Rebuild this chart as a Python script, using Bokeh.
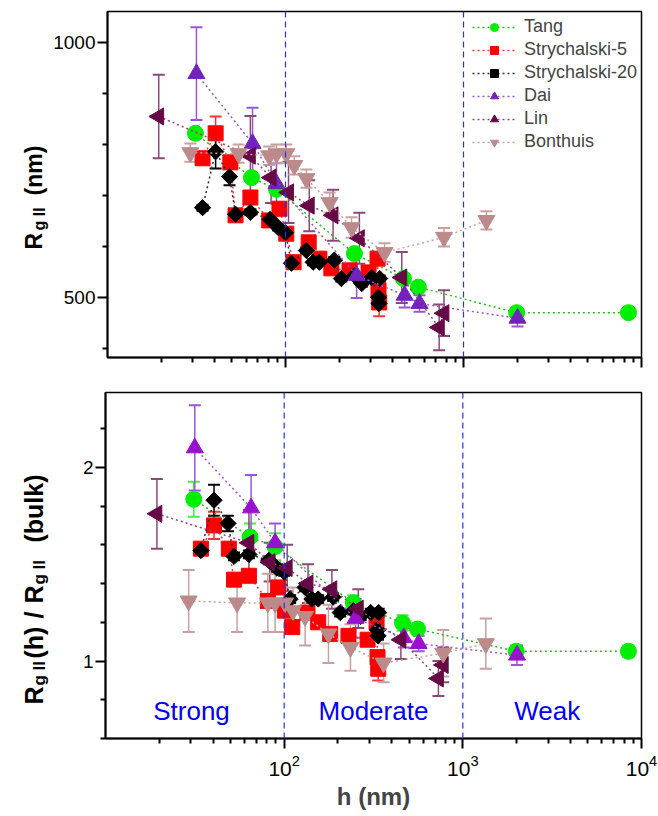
import math
from bokeh.plotting import figure
from bokeh.models import (ColumnDataSource, Whisker, TeeHead, Span, Label, Legend,
                          LegendItem, FixedTicker, Range1d, CustomJSTickFormatter)
from bokeh.layouts import column, row
from bokeh.embed import file_html
from bokeh.resources import INLINE
from bokeh.core.properties import value

FONT = "Liberation Sans"

# ---------------- data ----------------
series_names = ["Tang", "Strychalski-5", "Strychalski-20", "Dai", "Lin", "Bonthuis"]

tang_h = [31.2, 64.4, 89, 244, 460, 558, 1990, 8450]
tang_rg = [822, 735, 712, 586, 537, 520, 470, 470]
tang_rg_err = [0, 0, 0, 0, 0, 0, 0, 0]
tang_ratio = [1.835, 1.64, 1.59, 1.30, 1.196, 1.165, 1.05, 1.05]
tang_ratio_err = [0.09, 0.07, 0.07, 0.04, 0.04, 0.03, 0.03, 0.03]

s5_h = [34.2, 40.5, 49, 52.4, 63.5, 81, 92.5, 101, 111, 135, 155, 181, 229, 293, 329, 333, 336]
s5_rg = [773, 822, 765, 661, 696, 651, 674, 625, 569, 608, 576, 557, 553, 549, 576, 514, 490]
s5_rg_err = [12, 33, 12, 10, 12, 10, 12, 10, 10, 12, 10, 10, 10, 10, 12, 12, 27]
s5_ratio = [1.58, 1.70, 1.58, 1.42, 1.44, 1.31, 1.38, 1.26, 1.175, 1.25, 1.20, 1.14, 1.13, 1.11, 1.20, 1.02, 0.96]
s5_ratio_err = [0.03, 0.07, 0.03, 0.03, 0.03, 0.02, 0.03, 0.02, 0.02, 0.03, 0.02, 0.02, 0.02, 0.02, 0.03, 0.03, 0.06]

s20_h = [34.2, 40.5, 48.5, 52.4, 63.5, 82, 91, 100, 108, 131, 143, 155, 188, 206, 244, 268, 305, 338, 333, 335]
s20_rg = [676, 786, 737, 663, 667, 653, 637, 627, 567, 592, 569, 569, 573, 537, 543, 527, 539, 537, 500, 488]
s20_rg_err = [6, 33, 17, 6, 6, 6, 6, 6, 6, 6, 6, 6, 6, 6, 6, 6, 6, 6, 8, 8]
s20_ratio = [1.57, 1.83, 1.71, 1.54, 1.55, 1.52, 1.48, 1.46, 1.32, 1.38, 1.32, 1.32, 1.33, 1.25, 1.26, 1.23, 1.25, 1.25, 1.16, 1.13]
s20_ratio_err = [0.02, 0.08, 0.04, 0.02, 0.02, 0.02, 0.02, 0.02, 0.02, 0.02, 0.02, 0.02, 0.02, 0.02, 0.02, 0.02, 0.02, 0.02, 0.02, 0.02]

dai_h = [31.6, 65.3, 89, 251, 467, 566, 2010]
dai_rg = [939, 802, 723, 543, 504, 488, 459]
dai_rg_err = [91, 70, 40, 44, 24, 16, 16]
dai_ratio = [2.10, 1.79, 1.61, 1.22, 1.12, 1.09, 1.03]
dai_ratio_err = [0.22, 0.17, 0.10, 0.10, 0.05, 0.04, 0.05]

lin_h = [19.4, 63.5, 83, 104, 136, 185, 260, 450, 777, 730]
lin_rg = [855, 778, 735, 706, 680, 661, 616, 539, 469, 441]
lin_rg_err = [82, 78, 50, 60, 50, 50, 50, 50, 45, 45]
lin_ratio = [1.76, 1.61, 1.51, 1.48, 1.40, 1.37, 1.27, 1.11, 0.98, 0.91]
lin_ratio_err = [0.18, 0.17, 0.10, 0.12, 0.10, 0.10, 0.10, 0.10, 0.09, 0.09]

bon_h = [29.2, 54.5, 81, 89, 101, 112, 131, 177, 235, 360, 777, 1345]
bon_rg = [784, 782, 778, 782, 782, 759, 733, 686, 637, 588, 618, 651]
bon_rg_err = [18, 18, 18, 18, 18, 18, 18, 20, 20, 18, 18, 18]
bon_ratio = [1.31, 1.30, 1.30, 1.30, 1.30, 1.26, 1.23, 1.14, 1.07, 0.99, 1.04, 1.09]
bon_ratio_err = [0.16, 0.15, 0.15, 0.15, 0.15, 0.12, 0.15, 0.15, 0.12, 0.10, 0.12, 0.13]

x_major = [100, 1000, 10000]
x_minor = [20, 30, 40, 50, 60, 70, 80, 90, 200, 300, 400, 500, 600, 700, 800, 900,
           2000, 3000, 4000, 5000, 6000, 7000, 8000, 9000]
top_y_major = [500, 1000]
top_y_minor = [400, 600, 700, 800, 900]
bot_y_major = [1, 2]
bot_y_minor = [0.6, 0.8, 1.2, 1.4, 1.6, 1.8, 2.2]
regime_boundaries = [100, 1000]
regime_names = ["Strong", "Moderate", "Weak"]
regime_x = [30.3, 316, 2966]
regime_y = 0.74

# y-axis title pieces (text, is_subscript)
top_title = [("R", False), ("g II", True), ("(nm)", False)]
bot_title = [("R", False), ("g II", True), ("(h)", False), ("/", False),
             ("R", False), ("g II", True), ("(bulk)", False)]

# ---------------- styles ----------------
styles = {
    "Tang": dict(marker="circle", size=16, angle=0.0, top="#00EE00", bot="#00EE00",
                 err="#44EE44", line="#22BB22"),
    "Strychalski-5": dict(marker="square", size=15, angle=0.0, top="#FF0000", bot="#FF0000",
                          err="#FF3333", line="#FF3333"),
    "Strychalski-20": dict(marker="square", size=11.5, angle=math.pi / 4, top="#000000",
                           bot="#000000", err="#000000", line="#333333"),
    "Dai": dict(marker="triangle", size=17, angle=0.0, top="#7322BD", bot="#9A10D0",
                err="#9A55D8", line="#9A55D8"),
    "Lin": dict(marker="triangle", size=17, angle=math.pi / 2, top="#660A46", bot="#660A46",
                err="#8A4A78", line="#8A4A78"),
    "Bonthuis": dict(marker="inverted_triangle", size=17, angle=0.0, top="#BC8A8A",
                     bot="#BC8A8A", err="#C8A0A0", line="#C8A0A0"),
}

data = {
    "Tang": (tang_h, tang_rg, tang_rg_err, tang_ratio, tang_ratio_err),
    "Strychalski-5": (s5_h, s5_rg, s5_rg_err, s5_ratio, s5_ratio_err),
    "Strychalski-20": (s20_h, s20_rg, s20_rg_err, s20_ratio, s20_ratio_err),
    "Dai": (dai_h, dai_rg, dai_rg_err, dai_ratio, dai_ratio_err),
    "Lin": (lin_h, lin_rg, lin_rg_err, lin_ratio, lin_ratio_err),
    "Bonthuis": (bon_h, bon_rg, bon_rg_err, bon_ratio, bon_ratio_err),
}

LW = 50          # width of the y-title strip
W = 608          # width of each plot
LEFT = 55
RIGHT = 17
H_TOP = 378
H_BOT = 438


def style_axes(p, ymaj, ymin, show_x_labels):
    p.xaxis.ticker = FixedTicker(ticks=x_major, minor_ticks=x_minor)
    p.yaxis.ticker = FixedTicker(ticks=ymaj, minor_ticks=ymin)
    for ax in (p.xaxis[0], p.yaxis[0]):
        ax.axis_line_width = 2
        ax.axis_line_color = "black"
        ax.major_tick_line_width = 2
        ax.minor_tick_line_width = 2
        ax.major_tick_out = 10
        ax.major_tick_in = 0
        ax.minor_tick_out = 5
        ax.minor_tick_in = 0
        ax.major_label_text_font = FONT
        ax.major_label_text_font_size = "19px"
        ax.major_label_text_color = "black"
        ax.major_label_standoff = 2
    if not show_x_labels:
        p.xaxis.formatter = CustomJSTickFormatter(code="return ''")
        p.xaxis.major_label_text_font_size = "1px"
        p.xaxis.major_label_standoff = 0
    p.xgrid.visible = False
    p.ygrid.visible = False
    p.outline_line_color = "black"
    p.outline_line_width = 1.5


def draw_series(p, which):
    rends = {}
    for name in series_names:
        st = styles[name]
        h, rg, rge, ra, rae = data[name]
        if which == "top":
            y, e, col = rg, rge, st["top"]
        else:
            y, e, col = ra, rae, st["bot"]
        order = sorted(range(len(h)), key=lambda i: h[i])
        src = ColumnDataSource(dict(
            x=[h[i] for i in order], y=[y[i] for i in order],
            lo=[y[i] - e[i] for i in order], hi=[y[i] + e[i] for i in order]))
        w = Whisker(base="x", lower="lo", upper="hi", source=src, line_color=st["err"],
                    line_width=1.5,
                    lower_head=TeeHead(size=12, line_color=st["err"], line_width=2),
                    upper_head=TeeHead(size=12, line_color=st["err"], line_width=2))
        p.add_layout(w)
        lr = p.line("x", "y", source=src, line_color=st["line"], line_width=1.5,
                    line_dash="2 3")
        sr = p.scatter("x", "y", source=src, marker=st["marker"], size=st["size"],
                       angle=st["angle"], fill_color=col, line_color=col)
        rends[name] = (lr, sr)
    return rends


def title_strip(height, pieces, starts, fs, sub_fs):
    """A narrow figure whose data space equals its pixel space, holding the
    rotated, subscripted y-axis title."""
    s = figure(frame_width=LW, frame_height=height, x_range=Range1d(0, LW),
               y_range=Range1d(0, height), x_axis_location=None, y_axis_location=None,
               toolbar_location=None, output_backend="svg", min_border=0,
               min_border_left=0, min_border_right=0, min_border_top=0,
               min_border_bottom=0, outline_line_color=None)
    s.grid.visible = False
    for (txt, sub), y0 in zip(pieces, starts):
        s.text(x=[39 if sub else 33], y=[y0], text=[txt], angle=math.pi / 2,
               text_align="left", text_baseline="alphabetic",
               text_font=value(FONT), text_font_style="bold",
               text_font_size=value(f"{sub_fs}px" if sub else f"{fs}px"),
               text_color="black")
    return s


# ---------------- top panel ----------------
top = figure(width=W, height=H_TOP, x_axis_type="log", x_range=Range1d(10, 1e4),
             y_range=Range1d(382, 1061), output_backend="svg", toolbar_location=None,
             min_border_left=LEFT, min_border_right=RIGHT, min_border_top=11,
             min_border_bottom=21)
style_axes(top, top_y_major, top_y_minor, False)
for b in regime_boundaries:
    top.add_layout(Span(location=b, dimension="height", line_color="#2233EE",
                        line_width=1.2, line_dash="6 4"))
rends = draw_series(top, "top")

items = [LegendItem(label=n, renderers=list(rends[n])) for n in series_names]
leg = Legend(items=items, location=(365, 205), glyph_width=44, glyph_height=20,
             label_height=20, spacing=2, padding=0, margin=0, label_standoff=8,
             label_text_font=FONT, label_text_font_size="18px",
             border_line_color=None, background_fill_alpha=0)
top.add_layout(leg)

# ---------------- bottom panel ----------------
bot = figure(width=W, height=H_BOT, x_axis_type="log", x_range=Range1d(10, 1e4),
             y_range=Range1d(0.6, 2.386), output_backend="svg", toolbar_location=None,
             min_border_left=LEFT, min_border_right=RIGHT, min_border_top=14,
             min_border_bottom=78)
style_axes(bot, bot_y_major, bot_y_minor, True)
bot.xaxis.major_label_text_font_size = "21px"
bot.xaxis.major_label_standoff = 6
bot.xaxis.axis_label = "h (nm)"
bot.xaxis.axis_label_text_font = FONT
bot.xaxis.axis_label_text_font_style = "bold"
bot.xaxis.axis_label_text_font_size = "24px"
bot.xaxis.axis_label_standoff = 4
for b in regime_boundaries:
    bot.add_layout(Span(location=b, dimension="height", line_color="#2233EE",
                        line_width=1.2, line_dash="6 4"))
draw_series(bot, "bot")
for nm, xx in zip(regime_names, regime_x):
    bot.add_layout(Label(x=xx, y=regime_y, text=nm, text_align="center",
                         text_baseline="middle", text_color="#0000FF",
                         text_font=FONT, text_font_size="26px"))

top_strip = title_strip(H_TOP, top_title, [140, 159, 194], 23, 16)
bot_strip = title_strip(H_BOT, bot_title, [126, 145, 172, 212, 227, 246, 288], 25, 17)

layout = column(row(top_strip, top, spacing=0), row(bot_strip, bot, spacing=0), spacing=0)
open("out.html", "w").write(file_html(layout, INLINE))
